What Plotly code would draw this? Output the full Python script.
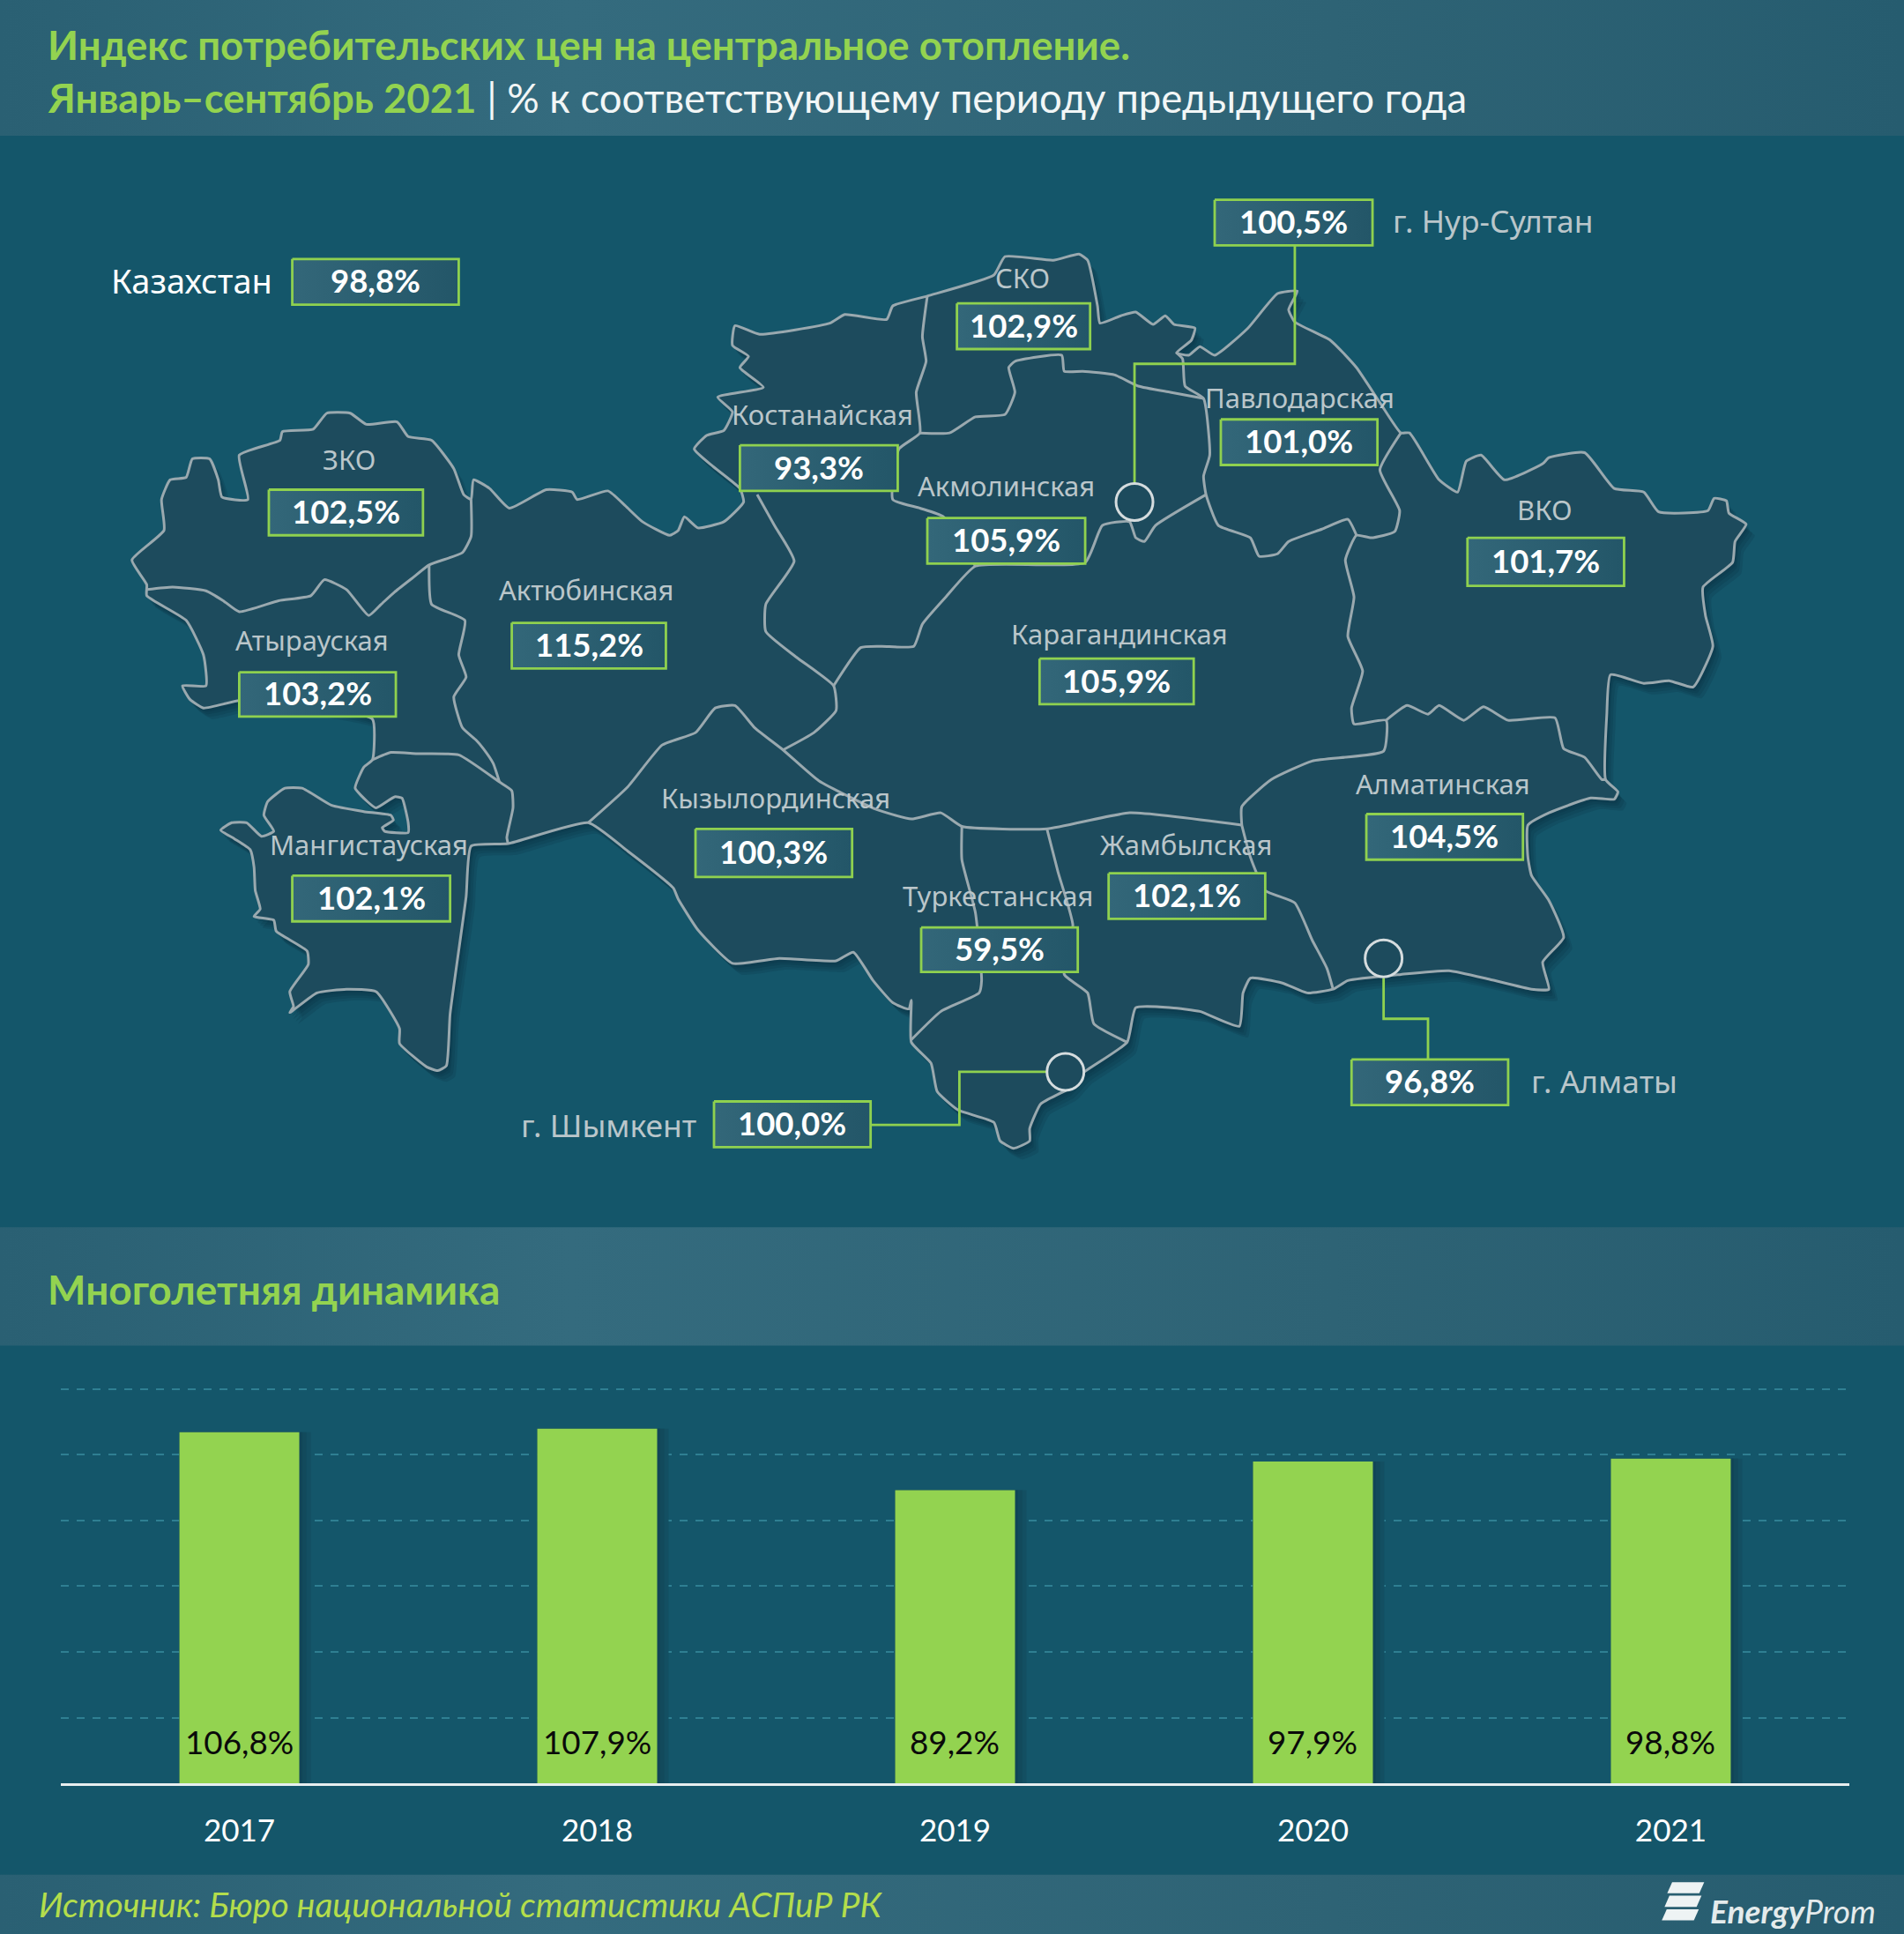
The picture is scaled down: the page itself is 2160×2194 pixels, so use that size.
import plotly.graph_objects as go

# ---------- data ----------
years = ["2017", "2018", "2019", "2020", "2021"]
dynamics = [106.8, 107.9, 89.2, 97.9, 98.8]
dynamics_labels = ["106,8%", "107,9%", "89,2%", "97,9%", "98,8%"]

region_names = ["СКО", "Костанайская", "ЗКО", "Акмолинская", "Павлодарская", "ВКО", "Актюбинская",
                "Атырауская", "Карагандинская", "Алматинская", "Кызылординская", "Жамбылская",
                "Мангистауская", "Туркестанская"]
region_values = ["102,9%", "93,3%", "102,5%", "105,9%", "101,0%", "101,7%", "115,2%",
                 "103,2%", "105,9%", "104,5%", "100,3%", "102,1%", "102,1%", "59,5%"]
city_names = ["г. Нур-Султан", "г. Шымкент", "г. Алматы"]
city_values = ["100,5%", "100,0%", "96,8%"]
country_name = "Казахстан"
country_value = "98,8%"

title_line1 = "Индекс потребительских цен на центральное отопление."
title_line2a = "Январь–сентябрь 2021"
title_line2b = " | % к соответствующему периоду предыдущего года"
section_title = "Многолетняя динамика"
source_text = "Источник: Бюро национальной статистики АСПиР РК"

# ---------- map geometry (picture units, 1544 x 1568) ----------
outer = [(107,454),(133,430),(131,405),(138,389),(151,387),(156,372),(170,372),(177,389),(180,403),(201,405),(194,369),(227,357),(229,350),(254,348),(265,335),(284,335),(297,344),(322,342),(331,354),(350,357),(368,380),(376,401),(382,405),(384,389),(397,396),(413,412),(443,397),(464,399),(468,405),(493,398),(507,410),(521,423),(543,434),(550,430),(555,419),(566,428),(587,423),(603,407),(600,396),(578,378),(563,364),(573,353),(587,349),(594,334),(582,322),(619,314),(600,298),(607,289),(594,280),(596,264),(616,271),(673,262),(685,255),(719,259),(724,248),(752,240),(806,223),(815,208),(854,211),(875,206),(882,211),(890,248),(892,262),(909,256),(921,253),(935,263),(945,256),(952,263),(969,266),(966,276),(954,286),(964,288),(973,281),(985,288),(1012,266),(1036,238),(1052,236),(1045,251),(1050,261),(1079,276),(1100,298),(1120,328),(1136,351),(1143,351),(1167,389),(1182,399),(1189,374),(1201,369),(1220,389),(1251,376),(1256,371),(1285,367),(1309,396),(1333,399),(1345,415),(1385,414),(1390,404),(1400,406),(1402,416),(1416,425),(1407,439),(1405,456),(1381,476),(1383,499),(1389,524),(1373,557),(1354,552),(1333,554),(1306,547),(1303,579),(1302,632),(1312,642),(1309,648),(1290,647),(1256,659),(1239,669),(1239,695),(1242,710),(1256,730),(1268,760),(1251,780),(1256,802),(1242,802),(1208,794),(1175,787),(1136,790),(1093,795),(1081,802),(1060,805),(1040,797),(1014,793),(1008,805),(1005,832),(973,820),(950,817),(921,817),(914,845),(878,870),(866,883),(844,895),(835,915),(835,925),(822,931),(811,925),(806,910),(777,900),(760,885),(755,862),(739,845),(739,811),(737,818),(724,813),(708,795),(692,772),(678,779),(632,777),(594,781),(566,754),(550,729),(546,720),(509,690),(477,667),(412,684),(382,686),(378,727),(365,822),(362,864),(355,868),(346,865),(324,846),(324,834),(305,804),(281,802),(257,805),(235,821),(238,816),(235,804),(250,782),(249,771),(224,755),(222,746),(206,743),(211,737),(207,722),(206,703),(203,689),(190,680),(179,673),(188,667),(200,667),(212,678),(222,674),(214,661),(217,650),(231,639),(245,639),(269,653),(295,658),(317,661),(319,665),(310,671),(312,674),(331,675),(331,667),(326,647),(320,646),(305,655),(298,650),(288,639),(295,622),(302,616),(302,583),(240,570),(194,568),(165,574),(154,567),(148,556),(167,556),(165,531),(151,503),(119,483),(119,474),(107,454)]

inner = [
 [(119,478),(140,476),(167,479),(181,487),(194,496),(226,487),(252,483),(263,470),(281,478),(299,499),(309,490),(320,480),(334,469),(348,458),(375,448),(382,435),(382,405)],
 [(348,458),(350,490),(377,503),(372,531),(378,549),(368,565),(375,590),(386,600),(392,607),(400,619),(405,634)],
 [(302,616),(317,610),(338,611),(372,612),(405,634),(415,641),(416,655),(411,679),(412,684)],
 [(614,401),(628,426),(644,455),(621,490),(621,512),(646,533),(676,556),(678,576),(660,594),(635,608)],
 [(676,556),(698,525),(715,524),(741,524),(748,506),(767,484),(791,459),(880,456),(894,426),(916,423),(921,436),(928,439),(937,426),(978,401)],
 [(477,667),(509,638),(537,604),(564,594),(580,574),(596,572),(612,590),(635,608),(664,633),(710,656),(739,664),(763,659),(780,670),(849,672),(916,659),(1007,669)],
 [(1007,669),(1007,654),(1031,632),(1064,617),(1122,609),(1124,584),(1098,587),(1096,574),(1105,544),(1093,516),(1098,484),(1091,454),(1100,434),(1112,436),(1131,431),(1135,414),(1119,381),(1136,351)],
 [(1100,434),(1093,421),(1072,429),(1045,439),(1036,449),(1021,451),(1014,436),(988,426),(978,401),(976,386),(981,369),(976,323),(961,313),(959,291),(954,286)],
 [(976,323),(949,318),(923,313),(904,304),(878,301),(863,301),(861,288),(823,293),(818,298),(823,318),(815,336),(791,338),(770,351),(746,351)],
 [(752,240),(748,273),(751,293),(743,318),(746,351),(729,364),(724,405),(746,412),(765,419),(791,459)],
 [(1124,584),(1141,572),(1158,579),(1167,572),(1187,584),(1203,573),(1223,584),(1261,582),(1268,607),(1285,614),(1299,632),(1302,632)],
 [(1007,669),(1014,695),(1026,722),(1050,732),(1064,762),(1076,785),(1081,802)],
 [(780,670),(780,697),(791,740),(796,795),(794,805),(763,820),(739,843)],
 [(849,672),(858,707),(870,750),(863,790),(882,805),(887,830),(914,845)],
]

region_label_xy = [(829,225),(667,336),(283,372),(816,394),(1054,322),(1253,413),(475,478),
                   (253,519),(908,514),(1170,635),(629,647),(962,685),(299,685),(809,726)]
region_boxes = [(776,246,884,283),(600,361,728,398),(218,397,343,434),(752,420,880,457),(990,340,1117,377),
                (1190,436,1317,475),(415,505,540,542),(194,545,321,581),(843,534,968,571),(1108,660,1235,697),
                (564,672,691,711),(899,708,1026,745),(237,710,365,747),(747,752,874,788)]
city_boxes = [(985,162,1113,199),(579,893,706,930),(1096,859,1223,896)]
city_label_xy = [(1128,179,"left"),(566,912,"right"),(1240,876,"left")]
city_circles = [(920,407),(864,869),(1122,777)]
leaders = [[(1050,199),(1050,295),(920,295),(920,392)],
           [(706,912),(778,912),(778,869),(849,869)],
           [(1122,793),(1122,826),(1158,826),(1158,859)]]
country_box = (237,210,372,247)

# ---------- styles ----------
BG = "#14566A"
MAPFILL = "#1D4B5D"
BORDER = "#9AA9AF"
GREEN = "#93D350"
BOXLINE = "#8FD14F"
LABEL = "#BAC6CA"
BAND = [[0, "#2A6073"], [0.3, "#346B7E"], [0.7, "#2E6375"], [1, "#265C6F"]]
FONT = "Lato"
FONT_L = "Noto Sans"

fig = go.Figure()

def poly(pts, fill=None, grad=None, line=None, lw=0, smooth=False):
    xs = [p[0] for p in pts]
    ys = [p[1] for p in pts]
    ln = dict(color=line or "rgba(0,0,0,0)", width=lw)
    if smooth:
        ln.update(shape="spline", smoothing=0.45)
    kw = dict(x=xs, y=ys, mode="lines", hoverinfo="skip", showlegend=False, xaxis="x", yaxis="y", line=ln)
    if grad:
        kw.update(fill="toself", fillgradient=dict(type="horizontal", colorscale=grad))
    elif fill:
        kw.update(fill="toself", fillcolor=fill)
    fig.add_trace(go.Scatter(**kw))

def rect(x0, y0, x1, y1):
    return [(x0,y0),(x1,y0),(x1,y1),(x0,y1),(x0,y0)]

def text(x, y, s, size, color, anchor="center", family=FONT):
    fig.add_annotation(x=x, y=y, xref="x", yref="y", text=s, showarrow=False, xanchor=anchor, yanchor="middle",
                       font=dict(family=family, size=size, color=color))

# bands
poly(rect(0,0,1544,110), grad=BAND)
poly(rect(0,995,1544,1091), grad=BAND)
poly(rect(0,1520,1544,1568), grad=BAND)

# map shadow + fill + borders
for dx, dy in [(7,9),(5,7),(3,5),(2,3)]:
    poly([(x+dx, y+dy) for x, y in outer], fill="rgba(6,35,48,0.14)", smooth=True)
poly(outer, fill=MAPFILL, line=BORDER, lw=3, smooth=True)
for seg in inner:
    poly(seg, line=BORDER, lw=3, smooth=True)

# leaders
for seg in leaders:
    poly(seg, line=BOXLINE, lw=2.8)

# city circles
for cx, cy in city_circles:
    fig.add_shape(type="circle", xref="x", yref="y", x0=cx-15, x1=cx+15, y0=cy-15, y1=cy+15,
                  line=dict(color="#D5DCDE", width=3), fillcolor=MAPFILL)

# value boxes
BOXG = [[0, "#336779"], [1, "#235668"]]
def valuebox(b, s):
    poly(rect(*b), grad=BOXG, line=BOXLINE, lw=2.8)
    text((b[0]+b[2])/2, (b[1]+b[3])/2 - 1, "<b>%s</b>" % s, 36.5, "#FFFFFF")

for b, s in zip(region_boxes, region_values):
    valuebox(b, s)
for b, s in zip(city_boxes, city_values):
    valuebox(b, s)
valuebox(country_box, country_value)

for (x, y), s in zip(region_label_xy, region_names):
    text(x, y, s, 31, LABEL, family=FONT_L)
for (x, y, a), s in zip(city_label_xy, city_names):
    text(x, y, s, 35.4, LABEL, anchor=a, family=FONT_L)
text(222, 227, country_name, 38, "#FFFFFF", anchor="right", family=FONT_L)

# header texts
text(37, 36, "<b>%s</b>" % title_line1, 45.5, GREEN, anchor="left")
fig.add_annotation(x=37, y=79, xref="x", yref="y", showarrow=False, xanchor="left", yanchor="middle",
                   text='<b><span style="color:%s">%s</span></b>%s' % (GREEN, title_line2a, title_line2b),
                   font=dict(family=FONT, size=45.5, color="#F2F6F6"))
text(37, 1045, "<b>%s</b>" % section_title, 46, GREEN, anchor="left")
text(30, 1544, "<i>%s</i>" % source_text, 39, "#B3DD4C", anchor="left")

# logo
for y0 in (1526, 1537, 1548):
    h = 9
    s = (y0-1526)*0.2
    poly([(1356-s, y0), (1382-s, y0), (1378-s, y0+h), (1352-s, y0+h), (1356-s, y0)], fill="#EEF3F4")
text(1385, 1549, "<i><b>Energy</b>Prom</i>", 37, "#E4EBEC", anchor="left")

# bars: soft shadow layers
bar_w = 0.335
for extra, col in [(0.032, "#134F62"), (0.02, "#124A5C"), (0.008, "#114557")]:
    fig.add_trace(go.Bar(x=years, y=dynamics, width=bar_w + extra, offset=-bar_w/2,
                         marker=dict(color=col, line=dict(width=0)), hoverinfo="skip",
                         showlegend=False, xaxis="x2", yaxis="y2"))
fig.add_trace(go.Bar(x=years, y=dynamics, width=bar_w, offset=-bar_w/2,
                     marker=dict(color=GREEN, line=dict(width=0)), hoverinfo="skip",
                     showlegend=False, xaxis="x2", yaxis="y2"))
label_level = 12.7
for i, lab in enumerate(dynamics_labels):
    fig.add_annotation(x=i, y=label_level, xref="x2", yref="y2", text=lab, showarrow=False,
                       font=dict(family=FONT, size=36.8, color="#0A0A0A"))

W, H = 1544, 1568
y_top = 120.4
px_per_unit = 320 / 120
fig.update_layout(
    width=2160, height=2194, margin=dict(l=0, r=0, t=0, b=0, autoexpand=False),
    paper_bgcolor=BG, plot_bgcolor="rgba(0,0,0,0)", barmode="overlay", showlegend=False,
    xaxis=dict(domain=[0,1], range=[0,W], visible=False, fixedrange=True),
    yaxis=dict(domain=[0,1], range=[H,0], visible=False, fixedrange=True),
    xaxis2=dict(domain=[49/W,1500/W], anchor="y2", type="category", range=[-0.5,4.5], showgrid=False, showline=True,
                categoryorder="array", categoryarray=years,
                linecolor="#E8EEEF", linewidth=3, ticks="outside", ticklen=21, tickcolor="rgba(0,0,0,0)",
                tickfont=dict(family=FONT, size=35, color="#FFFFFF"), fixedrange=True),
    yaxis2=dict(domain=[1-1446/H,1-(1446-y_top*px_per_unit)/H], anchor="x2", range=[0,y_top], dtick=20, showgrid=True,
                griddash="dash", gridcolor="#2F7F92", gridwidth=1.6, showticklabels=False, zeroline=False,
                showline=False, ticks="", fixedrange=True),
)
fig.write_html("out.html", config={"displayModeBar": False},
               post_script="document.body.style.margin='0';document.documentElement.style.overflow='hidden';")
